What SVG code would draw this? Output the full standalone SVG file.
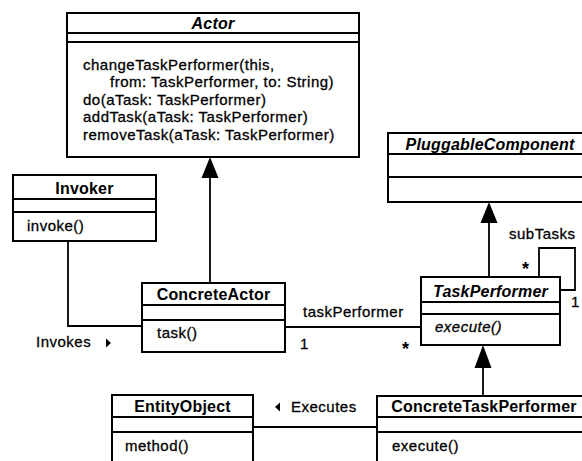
<svg xmlns="http://www.w3.org/2000/svg" width="582" height="461" viewBox="0 0 582 461">
  <style>
    .box { fill: #fff; stroke: #000; stroke-width: 2; }
    .sep { stroke: #000; stroke-width: 2; }
    .title { font-family: "Liberation Sans", Arial, sans-serif; font-size: 16px; font-weight: bold; text-anchor: middle; letter-spacing: 0.2px; }
    .abstract { font-style: italic; }
    .txt { font-family: "Liberation Sans", Arial, sans-serif; font-size: 15px; letter-spacing: 0.5px; stroke: #000; stroke-width: 0.3px; }
    .ital { font-style: italic; }
    .mult { font-family: "Liberation Sans", Arial, sans-serif; font-size: 18px; font-weight: bold; }
    .conn { fill: none; stroke: #000; stroke-width: 1.8; }
    .head { fill: #000; stroke: none; }
  </style>
  <rect width="582" height="461" fill="#fff"/>

  <!-- associations and generalizations -->
  <g id="connectors">
    <!-- ConcreteActor inherits Actor -->
    <line class="conn" x1="210" y1="283" x2="210" y2="176"/>
    <polygon class="head" points="210,157 201.5,178 218.5,178"/>
    <!-- Invoker invokes ConcreteActor -->
    <polyline class="conn" points="68,241 68,326 142,326"/>
    <!-- ConcreteActor to TaskPerformer -->
    <line class="conn" x1="285" y1="327" x2="421" y2="327"/>
    <!-- TaskPerformer inherits PluggableComponent -->
    <line class="conn" x1="489" y1="277" x2="489" y2="221"/>
    <polygon class="head" points="489,202 480.5,223 497.5,223"/>
    <!-- subTasks self association -->
    <polyline class="conn" points="539,277 539,248 575,248 575,290 560,290"/>
    <!-- ConcreteTaskPerformer inherits TaskPerformer -->
    <line class="conn" x1="483" y1="396" x2="483" y2="366"/>
    <polygon class="head" points="483,345 474.5,368 491.5,368"/>
    <!-- ConcreteTaskPerformer executes EntityObject -->
    <line class="conn" x1="253" y1="427" x2="377" y2="427"/>

    <!-- labels -->
    <text class="txt" x="36" y="347">Invokes</text>
    <polygon class="head" points="106,338.5 106,347.5 111,343"/>
    <text class="txt" x="303" y="317">taskPerformer</text>
    <text class="txt" x="300" y="349">1</text>
    <text class="mult" x="402" y="355">*</text>
    <text class="txt" x="509" y="239">subTasks</text>
    <text class="mult" x="522" y="275">*</text>
    <text class="txt" x="571" y="307">1</text>
    <polygon class="head" points="280,402.5 280,411.5 275,407"/>
    <text class="txt" x="291" y="412">Executes</text>
  </g>

  <g id="Actor">
    <rect class="box" x="67" y="13" width="292" height="144"/>
    <line class="sep" x1="67" y1="33" x2="359" y2="33"/>
    <line class="sep" x1="67" y1="42" x2="359" y2="42"/>
    <text class="title abstract" x="213" y="29">Actor</text>
    <text class="txt" x="83" y="69.5">changeTaskPerformer(this,</text>
    <text class="txt" x="110" y="87">from: TaskPerformer, to: String)</text>
    <text class="txt" x="83" y="104.5">do(aTask: TaskPerformer)</text>
    <text class="txt" x="83" y="122">addTask(aTask: TaskPerformer)</text>
    <text class="txt" x="83" y="139.5">removeTask(aTask: TaskPerformer)</text>
  </g>

  <g id="Invoker">
    <rect class="box" x="13" y="175" width="143" height="66"/>
    <line class="sep" x1="13" y1="199" x2="156" y2="199"/>
    <line class="sep" x1="13" y1="212" x2="156" y2="212"/>
    <text class="title" x="84.5" y="194">Invoker</text>
    <text class="txt" x="27" y="231">invoke()</text>
  </g>

  <g id="ConcreteActor">
    <rect class="box" x="142" y="283" width="143" height="69"/>
    <line class="sep" x1="142" y1="305" x2="285" y2="305"/>
    <line class="sep" x1="142" y1="320" x2="285" y2="320"/>
    <text class="title" x="213.5" y="300">ConcreteActor</text>
    <text class="txt" x="157" y="338">task()</text>
  </g>

  <g id="PluggableComponent">
    <rect class="box" x="388" y="133" width="204" height="69"/>
    <line class="sep" x1="388" y1="154" x2="592" y2="154"/>
    <line class="sep" x1="388" y1="177" x2="592" y2="177"/>
    <text class="title abstract" x="490" y="150">PluggableComponent</text>
  </g>

  <g id="TaskPerformer">
    <rect class="box" x="421" y="277" width="139" height="68"/>
    <line class="sep" x1="421" y1="302" x2="560" y2="302"/>
    <line class="sep" x1="421" y1="314" x2="560" y2="314"/>
    <text class="title abstract" x="490.5" y="297">TaskPerformer</text>
    <text class="txt ital" x="435" y="332">execute()</text>
  </g>

  <g id="EntityObject">
    <rect class="box" x="112" y="395" width="141" height="80"/>
    <line class="sep" x1="112" y1="417" x2="253" y2="417"/>
    <line class="sep" x1="112" y1="432" x2="253" y2="432"/>
    <text class="title" x="182.5" y="412">EntityObject</text>
    <text class="txt" x="125" y="451">method()</text>
  </g>

  <g id="ConcreteTaskPerformer">
    <rect class="box" x="377" y="396" width="215" height="80"/>
    <line class="sep" x1="377" y1="417" x2="592" y2="417"/>
    <line class="sep" x1="377" y1="432" x2="592" y2="432"/>
    <text class="title" x="484" y="412">ConcreteTaskPerformer</text>
    <text class="txt" x="392" y="451">execute()</text>
  </g>
</svg>
